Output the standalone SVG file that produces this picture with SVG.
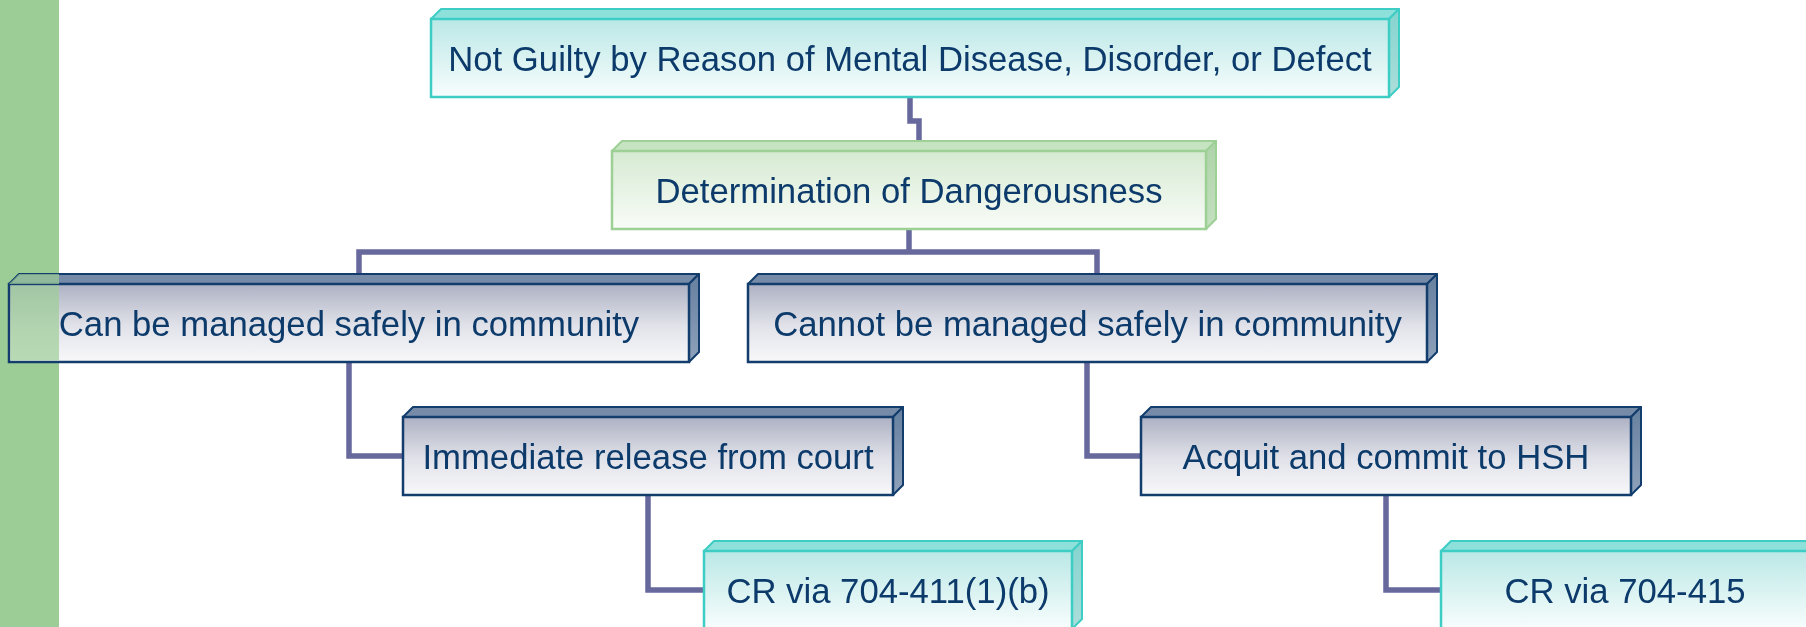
<svg xmlns="http://www.w3.org/2000/svg" width="1806" height="627" viewBox="0 0 1806 627">
  <defs>
    <linearGradient id="gTealFront" x1="0" y1="0" x2="0" y2="1">
      <stop offset="0" stop-color="#bae8e6"/>
      <stop offset="1" stop-color="#f8fdfd"/>
    </linearGradient>
    <linearGradient id="gTealSide" x1="0" y1="0" x2="0" y2="1">
      <stop offset="0" stop-color="#84d4cf"/>
      <stop offset="1" stop-color="#acdedb"/>
    </linearGradient>
    <linearGradient id="gGreenFront" x1="0" y1="0" x2="0" y2="1">
      <stop offset="0" stop-color="#d6ead2"/>
      <stop offset="1" stop-color="#f9fcf8"/>
    </linearGradient>
    <linearGradient id="gGreenSide" x1="0" y1="0" x2="0" y2="1">
      <stop offset="0" stop-color="#aed3a9"/>
      <stop offset="1" stop-color="#c3e0bf"/>
    </linearGradient>
    <linearGradient id="gNavyFront" x1="0" y1="0" x2="0" y2="1">
      <stop offset="0" stop-color="#adb1c3"/>
      <stop offset="0.55" stop-color="#e2e3ea"/>
      <stop offset="1" stop-color="#f8f8fa"/>
    </linearGradient>
    <linearGradient id="gNavySide" x1="0" y1="0" x2="0" y2="1">
      <stop offset="0" stop-color="#66809f"/>
      <stop offset="1" stop-color="#8fa2bb"/>
    </linearGradient>
    <clipPath id="barClip">
      <rect x="0" y="0" width="59" height="627"/>
    </clipPath>
  </defs>
  <style>
    .lbl { font-family: "Liberation Sans", Arial, sans-serif; font-size: 34.7px; fill: #0c3a6a; text-anchor: middle; }
    .conn { fill: none; stroke: #67689c; stroke-width: 5.5; stroke-linecap: butt; stroke-linejoin: miter; }
    .teal .front { fill: url(#gTealFront); stroke: #3ecdc5; stroke-width: 2.5; }
    .teal .top { fill: #8ee0db; stroke: #3ecdc5; stroke-width: 2; stroke-linejoin: round; }
    .teal .side { fill: url(#gTealSide); stroke: #3ecdc5; stroke-width: 2; stroke-linejoin: round; }
    .green .front { fill: url(#gGreenFront); stroke: #9cd095; stroke-width: 2.5; }
    .green .top { fill: #c6e3c2; stroke: #9cd095; stroke-width: 2; stroke-linejoin: round; }
    .green .side { fill: url(#gGreenSide); stroke: #9cd095; stroke-width: 2; stroke-linejoin: round; }
    .navy .front { fill: url(#gNavyFront); stroke: #123d6c; stroke-width: 2.5; }
    .navy .top { fill: #768ba8; stroke: #123d6c; stroke-width: 2; stroke-linejoin: round; }
    .navy .side { fill: url(#gNavySide); stroke: #123d6c; stroke-width: 2; stroke-linejoin: round; }
    .blend { fill: #9dcd96; mix-blend-mode: multiply; opacity: 0.7; }
  </style>

  <!-- green side bar -->
  <rect x="0" y="0" width="59" height="627" fill="#9dcd96"/>

  <!-- connectors -->
  <g id="connectors">
    <path class="conn" d="M910,97 V121 H919 V141"/>
    <path class="conn" d="M909,229 V252"/>
    <path class="conn" d="M359,274 V252 H1097 V274"/>
    <path class="conn" d="M349,362 V456 H403"/>
    <path class="conn" d="M1087,362 V456 H1141"/>
    <path class="conn" d="M648,495 V590 H704"/>
    <path class="conn" d="M1386,495 V590 H1441"/>
  </g>

  <!-- top node -->
  <g id="node-ngri" class="teal">
    <polygon class="top" points="431,19 441,9 1399,9 1389,19"/>
    <polygon class="side" points="1389,19 1399,9 1399,87 1389,97"/>
    <rect class="front" x="431" y="19" width="958" height="78"/>
    <text class="lbl" x="910" y="70.5">Not Guilty by Reason of Mental Disease, Disorder, or Defect</text>
  </g>

  <g id="node-dangerousness" class="green">
    <polygon class="top" points="612,151 622,141 1216,141 1206,151"/>
    <polygon class="side" points="1206,151 1216,141 1216,219 1206,229"/>
    <rect class="front" x="612" y="151" width="594" height="78"/>
    <text class="lbl" x="909" y="202.5">Determination of Dangerousness</text>
  </g>

  <g id="node-can-manage" class="navy">
    <polygon class="top" points="9,284 19,274 699,274 689,284"/>
    <polygon class="side" points="689,284 699,274 699,352 689,362"/>
    <rect class="front" x="9" y="284" width="680" height="78"/>
    <g clip-path="url(#barClip)">
      <polygon class="blend" points="9,284 19,274 699,274 689,284"/>
      <rect class="blend" x="10.5" y="285.5" width="678" height="75"/>
    </g>
    <text class="lbl" x="349" y="335.5">Can be managed safely in community</text>
  </g>

  <g id="node-cannot-manage" class="navy">
    <polygon class="top" points="748,284 758,274 1437,274 1427,284"/>
    <polygon class="side" points="1427,284 1437,274 1437,352 1427,362"/>
    <rect class="front" x="748" y="284" width="679" height="78"/>
    <text class="lbl" x="1087.5" y="335.5">Cannot be managed safely in community</text>
  </g>

  <g id="node-release" class="navy">
    <polygon class="top" points="403,417 413,407 903,407 893,417"/>
    <polygon class="side" points="893,417 903,407 903,485 893,495"/>
    <rect class="front" x="403" y="417" width="490" height="78"/>
    <text class="lbl" x="648" y="468.5">Immediate release from court</text>
  </g>

  <g id="node-commit" class="navy">
    <polygon class="top" points="1141,417 1151,407 1641,407 1631,417"/>
    <polygon class="side" points="1631,417 1641,407 1641,485 1631,495"/>
    <rect class="front" x="1141" y="417" width="490" height="78"/>
    <text class="lbl" x="1386" y="468.5">Acquit and commit to HSH</text>
  </g>

  <g id="node-cr-411" class="teal">
    <polygon class="top" points="704,551 714,541 1082,541 1072,551"/>
    <polygon class="side" points="1072,551 1082,541 1082,619 1072,629"/>
    <rect class="front" x="704" y="551" width="368" height="78"/>
    <text class="lbl" x="888" y="602.5">CR via 704-411(1)(b)</text>
  </g>

  <g id="node-cr-415" class="teal">
    <polygon class="top" points="1441,551 1451,541 1819,541 1809,551"/>
    <polygon class="side" points="1809,551 1819,541 1819,619 1809,629"/>
    <rect class="front" x="1441" y="551" width="368" height="78"/>
    <text class="lbl" x="1625" y="602.5">CR via 704-415</text>
  </g>
</svg>
